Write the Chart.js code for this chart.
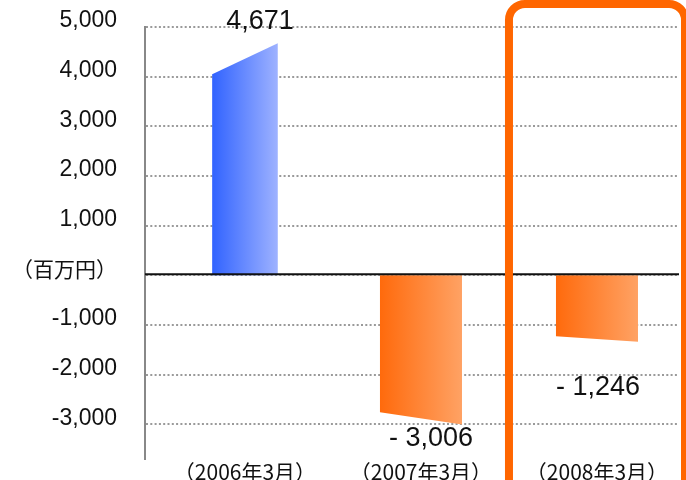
<!DOCTYPE html>
<html>
<head>
<meta charset="utf-8">
<script src="https://cdn.jsdelivr.net/npm/chart.js@4"></script>
<style>
  body { margin: 0; background: #fff; }
  #wrap { width: 686px; height: 480px; }
</style>
</head>
<body>
<div id="wrap"><canvas id="myChart" width="686" height="480"></canvas></div>
<script>
const categories = ['（2006年3月）', '（2007年3月）', '（2008年3月）'];
const values = [4671, -3006, -1246];
// the bars have slanted ends: value at left side and right side
const leftEdge = [4050, -2760, -1230];
const rightEdge = [4671, -3006, -1340];
const yTicks = [-3000, -2000, -1000, 0, 1000, 2000, 3000, 4000, 5000];
const unitLabel = '（百万円）';
const highlightIndex = 2;

// styling only
const barWidthScale = [0.8, 1, 1];
const labelShift = [[15, -22], [10, 14], [1, 46]];

function fmt(v) {
    if (v < 0) return '- ' + Math.abs(v).toLocaleString('en-US');
    return v.toLocaleString('en-US');
}

const slantBars = {
    id: 'slantBars',
    afterDatasetsDraw(chart) {
        const ctx = chart.ctx;
        const ys = chart.scales.y;
        const base = ys.getPixelForValue(0);
        chart.getDatasetMeta(0).data.forEach(function(bar, i) {
            const w = bar.width * barWidthScale[i];
            const x0 = bar.x - w / 2, x1 = bar.x + w / 2;
            const g = ctx.createLinearGradient(x0, 0, x1, 0);
            if (values[i] >= 0) {
                g.addColorStop(0, '#3163ff');
                g.addColorStop(1, '#9eb2ff');
            } else {
                g.addColorStop(0, '#ff6a0c');
                g.addColorStop(1, '#ffa264');
            }
            ctx.save();
            ctx.fillStyle = g;
            ctx.beginPath();
            ctx.moveTo(x0, base);
            ctx.lineTo(x0, ys.getPixelForValue(leftEdge[i]));
            ctx.lineTo(x1, ys.getPixelForValue(rightEdge[i]));
            ctx.lineTo(x1, base);
            ctx.closePath();
            ctx.fill();
            ctx.restore();
        });
    },
    afterDraw(chart) {
        const ctx = chart.ctx;
        const area = chart.chartArea;
        const ys = chart.scales.y;
        const xs = chart.scales.x;
        const zero = ys.getPixelForValue(0);
        ctx.save();
        // zero line
        ctx.strokeStyle = '#111';
        ctx.lineWidth = 2;
        ctx.beginPath();
        ctx.moveTo(area.left, zero - 1);
        ctx.lineTo(area.right, zero - 1);
        ctx.stroke();

        // value labels
        ctx.fillStyle = '#111';
        ctx.font = '27px "Liberation Sans", Arial, sans-serif';
        ctx.textAlign = 'center';
        ctx.textBaseline = 'middle';
        chart.getDatasetMeta(0).data.forEach(function(bar, i) {
            const y = ys.getPixelForValue(rightEdge[i]) + labelShift[i][1];
            ctx.fillText(fmt(values[i]), bar.x + labelShift[i][0], y);
        });

        // highlight box round the last period
        const left = xs.getPixelForValue(highlightIndex - 0.5);
        ctx.strokeStyle = '#ff6600';
        ctx.lineWidth = 8;
        ctx.beginPath();
        ctx.roundRect(left, 4, chart.width - 1 - left, chart.height + 20, 16);
        ctx.stroke();
        ctx.restore();
    }
};

const myChart = new Chart('myChart', {
    type: 'bar',
    data: {
        datasets: [{
            data: values.map(function(v, i) { return {x: i, y: v}; }),
            backgroundColor: 'rgba(0,0,0,0)',
            barPercentage: 0.466,
            categoryPercentage: 1
        }]
    },
    options: {
        responsive: false,
        animation: false,
        layout: { padding: { top: 27, right: 7, left: 0, bottom: 0 } },
        plugins: { legend: { display: false }, tooltip: { enabled: false } },
        scales: {
            x: {
                type: 'linear',
                offset: false,
                min: -0.568,
                max: 2.466,
                grid: { display: false, drawTicks: false },
                border: { display: false },
                afterBuildTicks: function(scale) {
                    scale.ticks = categories.map(function(c, i) { return {value: i}; });
                },
                afterFit: function(scale) {
                    scale.height = 21;
                    scale.paddingLeft = 0;
                    scale.paddingRight = 0;
                },
                ticks: {
                    padding: 0,
                    maxRotation: 0,
                    autoSkip: false,
                    color: '#111',
                    font: { family: '"Noto Sans CJK JP", sans-serif', size: 21 },
                    callback: function(v) { return categories[v]; }
                }
            },
            y: {
                min: -3700,
                max: 5000,
                z: 1,
                grid: { color: '#9a9a9a', lineWidth: 2, drawTicks: false },
                border: { display: true, color: '#888', width: 2, dash: [2, 2.3] },
                afterBuildTicks: function(scale) {
                    scale.ticks = yTicks.map(function(v) { return {value: v}; });
                },
                afterFit: function(scale) {
                    scale.width = 145;
                    scale.paddingTop = 0;
                    scale.paddingBottom = 0;
                },
                ticks: {
                    padding: 28,
                    labelOffset: -6,
                    color: '#111',
                    font: function(c) {
                        if (c.tick && c.tick.value === 0) {
                            return { family: '"Noto Sans CJK JP", sans-serif', size: 21 };
                        }
                        return { family: '"Liberation Sans", Arial, sans-serif', size: 23 };
                    },
                    callback: function(v) { return v === 0 ? unitLabel : v.toLocaleString('en-US'); }
                }
            }
        }
    },
    plugins: [slantBars]
});
</script>
</body>
</html>
